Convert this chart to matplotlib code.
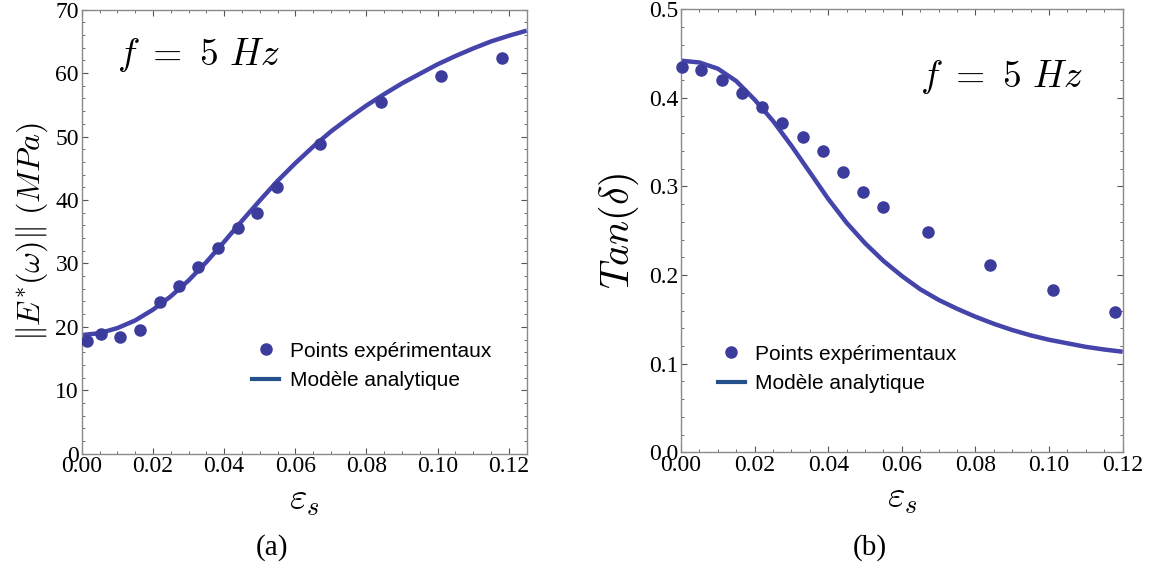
import numpy as np
import matplotlib
matplotlib.use("Agg")
import matplotlib.pyplot as plt
from matplotlib.lines import Line2D
from matplotlib.ticker import MultipleLocator, FormatStrFormatter

plt.rcParams['mathtext.fontset'] = 'cm'
plt.rcParams['font.family'] = 'Liberation Serif'

# -----------------------------
# Data
# -----------------------------
# (a) modulus |E*(w)| in MPa
eps_pts_a = [0.0016, 0.0055, 0.0108, 0.0164, 0.022, 0.0274, 0.0328, 0.0384,
             0.0438, 0.0493, 0.0548, 0.067, 0.084, 0.101, 0.118]
E_pts = [17.8, 18.8, 18.35, 19.45, 23.9, 26.5, 29.4, 32.5,
         35.55, 37.9, 42.05, 48.8, 55.4, 59.5, 62.45]

eps_model_a = [0.0, 0.005, 0.01, 0.015, 0.02, 0.025, 0.03, 0.035, 0.04, 0.045,
               0.05, 0.055, 0.06, 0.065, 0.07, 0.075, 0.08, 0.085, 0.09, 0.095,
               0.10, 0.105, 0.11, 0.115, 0.12, 0.125]
E_model = [18.7, 19.0, 19.8, 21.0, 22.7, 24.8, 27.3, 30.2, 33.4, 36.7,
           39.9, 43.0, 45.8, 48.4, 50.8, 52.9, 54.9, 56.7, 58.4, 59.9,
           61.4, 62.7, 63.9, 65.0, 65.9, 66.7]

# (b) loss factor tan(delta)
eps_pts_b = [0.0003, 0.0055, 0.0111, 0.0165, 0.022, 0.0275, 0.0332, 0.0385,
             0.0439, 0.0495, 0.0549, 0.067, 0.0839, 0.101, 0.118]
tan_pts = [0.435, 0.431, 0.4205, 0.4054, 0.390, 0.372, 0.356, 0.340,
           0.316, 0.2935, 0.2766, 0.2487, 0.211, 0.183, 0.158]

eps_model_b = [0.0, 0.005, 0.01, 0.015, 0.02, 0.025, 0.03, 0.035, 0.04, 0.045,
               0.05, 0.055, 0.06, 0.065, 0.07, 0.075, 0.08, 0.085, 0.09, 0.095,
               0.10, 0.105, 0.11, 0.115, 0.12]
tan_model = [0.442, 0.440, 0.433, 0.419, 0.398, 0.374, 0.346, 0.316, 0.286, 0.259,
             0.236, 0.216, 0.199, 0.184, 0.172, 0.162, 0.153, 0.145, 0.138, 0.132,
             0.127, 0.123, 0.119, 0.116, 0.1135]

PT_COLOR = '#3c3c9c'
LINE_COLOR = '#4444aa'
LEG_LINE = '#25508c'
SPINE = '#8a8a8a'

fig = plt.figure(figsize=(11.49, 5.71), dpi=100)
ax1 = fig.add_axes([81.7 / 1149, 1 - 453.7 / 571, 445 / 1149, 444 / 571])
ax2 = fig.add_axes([681 / 1149, 1 - 452.3 / 571, 441.7 / 1149, 443 / 571])


def style_axes(ax):
    for s in ax.spines.values():
        s.set_color(SPINE)
        s.set_linewidth(1.0)
    ax.tick_params(which='both', direction='in', top=True, right=True,
                   color='#555555', labelsize=17, pad=2)
    ax.tick_params(which='major', length=4, width=0.8)
    ax.tick_params(which='minor', length=2.5, width=0.6)


leg_kw = dict(frameon=False, prop={'family': 'Liberation Sans', 'size': 15},
              handlelength=1.3, handletextpad=0.5, borderpad=0, labelspacing=0.5)
freq_label = r'$f\ =\ 5\ Hz$'

# -----------------------------
# (a) modulus
# -----------------------------
ax1.plot(eps_model_a, E_model, color=LINE_COLOR, lw=3.2, solid_capstyle='butt', zorder=2)
ax1.plot(eps_pts_a, E_pts, 'o', color=PT_COLOR, ms=8, zorder=3)
ax1.set_xlim(0, 0.125)
ax1.set_ylim(0, 70)
ax1.xaxis.set_major_locator(MultipleLocator(0.02))
ax1.xaxis.set_minor_locator(MultipleLocator(0.005))
ax1.yaxis.set_major_locator(MultipleLocator(10))
ax1.yaxis.set_minor_locator(MultipleLocator(2))
ax1.xaxis.set_major_formatter(FormatStrFormatter('%.2f'))
style_axes(ax1)
ax1.set_ylabel(r'$\|E^{*}(\omega)\|\ (MPa)$', fontsize=23, labelpad=4)
ax1.set_xlabel(r'$\varepsilon_s$', fontsize=27, labelpad=4)
ax1.text(0.08, 0.875, freq_label, transform=ax1.transAxes, fontsize=27)

handles = [Line2D([], [], ls='', marker='o', color=PT_COLOR, ms=8),
           Line2D([], [], color=LEG_LINE, lw=3)]
labels = ['Points expérimentaux', 'Modèle analytique']
ax1.legend(handles, labels, loc='lower left', bbox_to_anchor=(0.36, 0.12), **leg_kw)

# -----------------------------
# (b) tan(delta)
# -----------------------------
ax2.plot(eps_model_b, tan_model, color=LINE_COLOR, lw=3.2, solid_capstyle='butt', zorder=2)
ax2.plot(eps_pts_b, tan_pts, 'o', color=PT_COLOR, ms=8, zorder=3, clip_on=False)
ax2.set_xlim(0, 0.12)
ax2.set_ylim(0, 0.5)
ax2.xaxis.set_major_locator(MultipleLocator(0.02))
ax2.xaxis.set_minor_locator(MultipleLocator(0.005))
ax2.yaxis.set_major_locator(MultipleLocator(0.1))
ax2.yaxis.set_minor_locator(MultipleLocator(0.02))
ax2.xaxis.set_major_formatter(FormatStrFormatter('%.2f'))
ax2.yaxis.set_major_formatter(FormatStrFormatter('%.1f'))
style_axes(ax2)
ax2.set_ylabel(r'$Tan(\delta)$', fontsize=29, labelpad=6)
ax2.set_xlabel(r'$\varepsilon_s$', fontsize=27, labelpad=4)
ax2.text(0.54, 0.825, freq_label, transform=ax2.transAxes, fontsize=27)
ax2.legend(handles, labels, loc='lower left', bbox_to_anchor=(0.06, 0.11), **leg_kw)

# subplot captions
fig.text(272 / 1149, 1 - 548 / 571, '(a)', ha='center', va='center', fontsize=21)
fig.text(870 / 1149, 1 - 548 / 571, '(b)', ha='center', va='center', fontsize=21)

fig.savefig('out.png', dpi=100)
